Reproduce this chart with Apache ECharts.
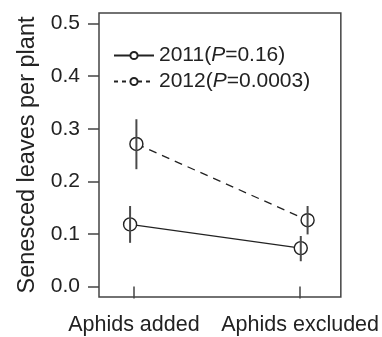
<!DOCTYPE html>
<html>
<head>
<meta charset="utf-8">
<script src="https://cdn.jsdelivr.net/npm/echarts@6/dist/echarts.min.js"></script>
<style>html,body{margin:0;padding:0;background:#fff}#c{width:382px;height:337px}</style>
</head>
<body>
<div id="c"></div>
<script>
// Data
const categories = ['Aphids added', 'Aphids excluded'];
const categoryPos = [1, 2];
const yTicks = [0, 0.1, 0.2, 0.3, 0.4, 0.5];
const seriesNames = ['2011', '2012'];
const pLabels = ['0.16', '0.0003'];
// slight horizontal dodge of the points as drawn
const x2011 = [0.977, 2.004];
const y2011 = [0.118, 0.073];
const lo2011 = [0.083, 0.048];
const hi2011 = [0.153, 0.096];
const x2012 = [1.015, 2.045];
const y2012 = [0.271, 0.126];
const lo2012 = [0.223, 0.099];
const hi2012 = [0.318, 0.153];

const FONT = 'Liberation Sans, Arial, Helvetica, sans-serif';
const INK = '#222';

function pts(xs, ys) { return xs.map((x, i) => [x, ys[i]]); }
function bars(xs, lo, hi) { return xs.map((x, i) => [x, lo[i], hi[i]]); }

const errRender = function (params, api) {
  const a = api.coord([api.value(0), api.value(1)]);
  const b = api.coord([api.value(0), api.value(2)]);
  return { type: 'line', shape: { x1: a[0], y1: a[1], x2: b[0], y2: b[1] },
           style: { stroke: '#4a4a4a', lineWidth: 2 } };
};

const chart = echarts.init(document.getElementById('c'), null, { renderer: 'canvas' });
chart.setOption({
  animation: false,
  backgroundColor: '#fff',
  textStyle: { fontFamily: FONT },
  grid: { left: 99, right: 31, top: 13, bottom: 40, show: true, borderColor: '#444', borderWidth: 1.5, backgroundColor: 'transparent' },
  xAxis: {
    type: 'value', min: 0.79, max: 2.245,
    splitLine: { show: false },
    axisLine: { show: false },
    axisTick: { show: true, length: 12, customValues: categoryPos, lineStyle: { color: '#444', width: 1.5 } },
    axisLabel: { customValues: categoryPos, margin: 17, fontSize: 21.5, color: INK, fontFamily: FONT,
      formatter: v => categories[categoryPos.indexOf(Math.round(v))] || '' }
  },
  yAxis: {
    type: 'value', min: -0.02, max: 0.52,
    splitLine: { show: false },
    axisLine: { show: false },
    axisTick: { show: true, length: 11, customValues: yTicks, lineStyle: { color: '#444', width: 1.5 } },
    axisLabel: { customValues: yTicks, margin: 19, fontSize: 21, color: INK, fontFamily: FONT,
      formatter: v => v.toFixed(1) },
    name: 'Senesced leaves per plant', nameLocation: 'middle', nameGap: 58,
    nameTextStyle: { fontSize: 23.5, color: INK, fontFamily: FONT }
  },
  legend: {
    orient: 'vertical', left: 108, top: 40, itemWidth: 40, itemHeight: 9, itemGap: 5,
    data: [
      { name: seriesNames[0], lineStyle: { type: 'solid' } },
      { name: seriesNames[1], lineStyle: { type: [4, 4] } }
    ],
    textStyle: { fontSize: 21, color: INK, fontFamily: FONT, rich: { i: { fontStyle: 'italic', fontSize: 21, fontFamily: FONT, color: INK } } },
    formatter: name => name + '({i|P}=' + pLabels[seriesNames.indexOf(name)] + ')'
  },
  series: [
    { name: seriesNames[0], type: 'line', data: pts(x2011, y2011), symbol: 'circle', symbolSize: 13,
      itemStyle: { color: '#fff', borderColor: INK, borderWidth: 1.4 },
      lineStyle: { color: INK, width: 1.3, type: 'solid' }, z: 2 },
    { name: seriesNames[1], type: 'line', data: pts(x2012, y2012), symbol: 'circle', symbolSize: 13,
      itemStyle: { color: '#fff', borderColor: INK, borderWidth: 1.4 },
      lineStyle: { color: INK, width: 1.3, type: [8, 6] }, z: 2 },
    { type: 'custom', renderItem: errRender, data: bars(x2011, lo2011, hi2011), encode: { x: 0, y: [1, 2] }, z: 5, silent: true },
    { type: 'custom', renderItem: errRender, data: bars(x2012, lo2012, hi2012), encode: { x: 0, y: [1, 2] }, z: 5, silent: true }
  ]
});
</script>
</body>
</html>
